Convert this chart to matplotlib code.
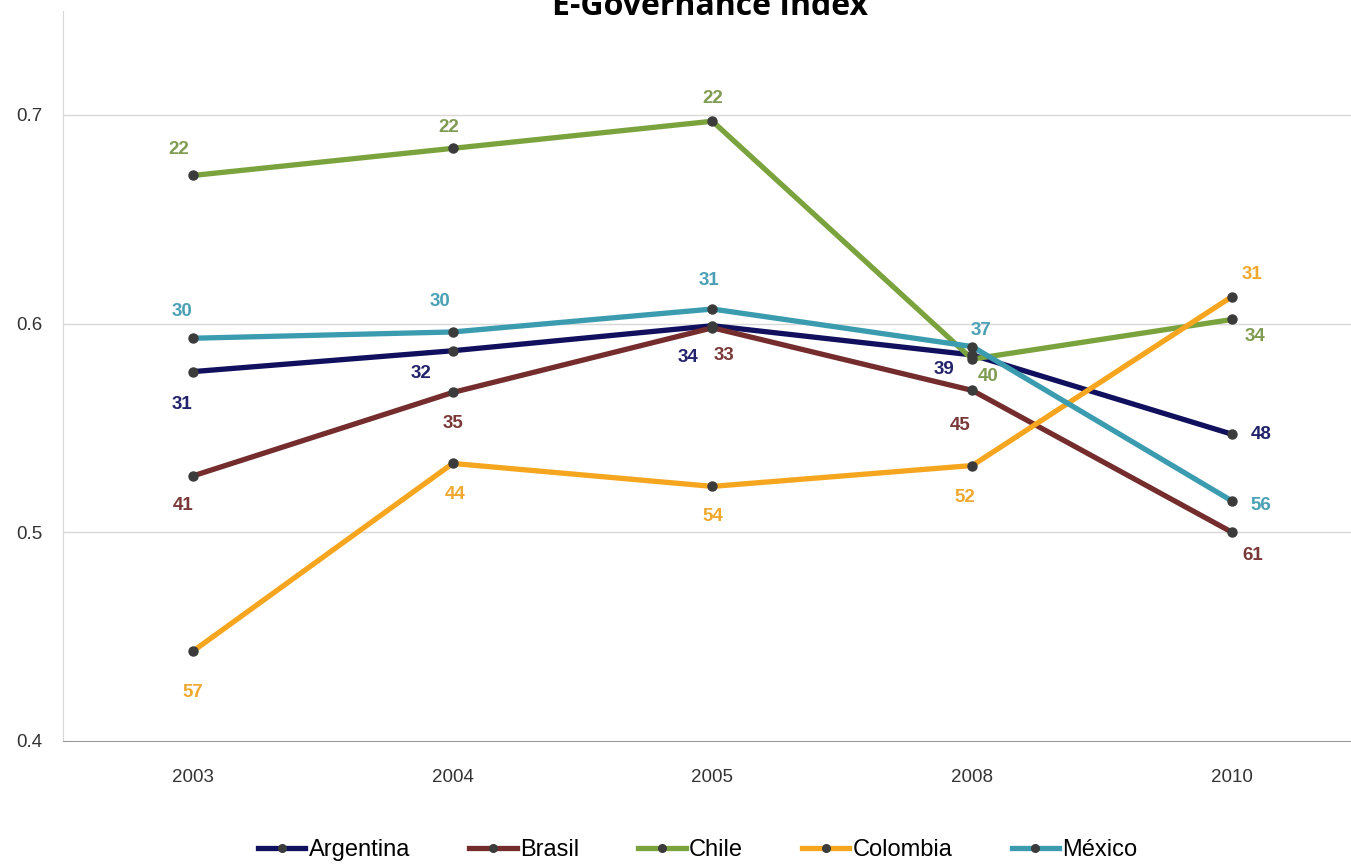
import matplotlib
matplotlib.use("Agg")
import matplotlib.pyplot as plt
from matplotlib.lines import Line2D

years = ['2003', '2004', '2005', '2008', '2010']

argentina = [0.577, 0.587, 0.599, 0.585, 0.547]
brasil = [0.527, 0.567, 0.598, 0.568, 0.500]
chile = [0.671, 0.684, 0.697, 0.583, 0.602]
colombia = [0.443, 0.533, 0.522, 0.532, 0.613]
mexico = [0.593, 0.596, 0.607, 0.589, 0.515]

# ranking shown as data labels
rank_argentina = [31, 32, 34, 39, 48]
rank_brasil = [41, 35, 33, 45, 61]
rank_chile = [22, 22, 22, 40, 34]
rank_colombia = [57, 44, 54, 52, 31]
rank_mexico = [30, 30, 31, 37, 56]

names = ['Argentina', 'Brasil', 'Chile', 'Colombia', 'México']
series = [argentina, brasil, chile, colombia, mexico]
ranks = [rank_argentina, rank_brasil, rank_chile, rank_colombia, rank_mexico]
line_colors = ['#10105e', '#742c2c', '#7aa33e', '#f6a51e', '#3b9baf']
label_colors = ['#23236c', '#7a3838', '#7f9c52', '#f0a82e', '#4aa0b4']

# label offsets in pixels (dx, dy), dy positive = up
offsets = [
    [(-11, -33), (-32, -23), (-24, -32), (-28, -15), (29, 0)],
    [(-10, -30), (0, -31), (12, -28), (-12, -35), (21, -23)],
    [(-14, 26), (-4, 21), (0, 23), (16, -17), (23, -17)],
    [(0, -41), (2, -31), (0, -30), (-7, -32), (20, 22)],
    [(-11, 27), (-13, 30), (-3, 29), (9, 16), (29, -5)],
]

fig = plt.figure(figsize=(13.51, 8.64), dpi=100)
ax = fig.add_axes([0.0466, 0.1424, 0.9615, 0.8453])

x = list(range(len(years)))
for vals, rk, lc, tc, offs, nm in zip(series, ranks, line_colors, label_colors, offsets, names):
    ax.plot(x, vals, color=lc, lw=3.8, solid_capstyle='round', zorder=3)
    ax.plot(x, vals, 'o', color='#3b3b3b', ms=6.5, zorder=4)
    for xi, v, r, (dx, dy) in zip(x, vals, rk, offs):
        ax.annotate(str(r), (xi, v), xytext=(dx, dy), textcoords='offset pixels',
                    ha='center', va='center', color=tc, fontsize=13.5,
                    fontweight='bold', family='Liberation Sans', zorder=5)

ax.set_xlim(-0.5, 4.5)
ax.set_ylim(0.4, 0.75)
ax.set_yticks([0.4, 0.5, 0.6, 0.7])
ax.set_yticklabels(['0.4', '0.5', '0.6', '0.7'])
ax.set_xticks(x)
ax.set_xticklabels(years)
ax.tick_params(length=0, labelsize=13.5, labelcolor='#333333')
ax.tick_params(axis='y', pad=15)
ax.tick_params(axis='x', pad=20)
for lab in ax.get_xticklabels() + ax.get_yticklabels():
    lab.set_family('Liberation Sans')

for yv in [0.5, 0.6, 0.7]:
    ax.axhline(yv, color='#d8d8d8', lw=1, zorder=1)

ax.spines['top'].set_visible(False)
ax.spines['right'].set_visible(False)
ax.spines['left'].set_color('#d8d8d8')
ax.spines['bottom'].set_color('#9a9a9a')

# title is clipped by the top edge, as in the original
fig.text(0.5255, 0.9826, 'E-Governance Index', ha='center', va='baseline',
         fontsize=23, fontweight='bold', family='Open Sans')

handles = [Line2D([], [], color=c, lw=3.8, marker='o', markersize=5.5,
                  markerfacecolor='#3b3b3b', markeredgecolor='#3b3b3b')
           for c in line_colors]
fig.legend(handles, names, loc='center', bbox_to_anchor=(0.5166, 0.016),
           ncol=5, frameon=False, handlelength=2.0, handletextpad=0.15,
           columnspacing=2.5,
           prop={'family': 'Liberation Sans', 'size': 17})

fig.savefig('out.png', dpi=100)
